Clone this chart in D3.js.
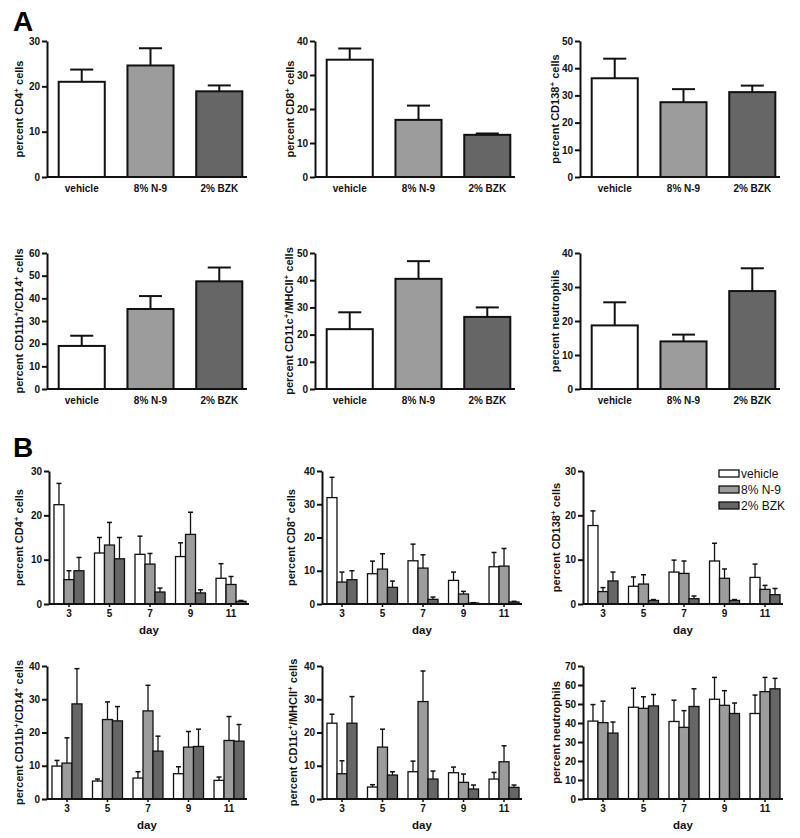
<!DOCTYPE html>
<html><head><meta charset="utf-8">
<script src="https://cdn.jsdelivr.net/npm/d3@7"></script>
<style>body{margin:0;background:#fff}</style>
</head><body>
<svg id="c" width="800" height="838"></svg>
<script>
// ---------- DATA ----------
const treatments = ["vehicle", "8% N-9", "2% BZK"];
const days = ["3", "5", "7", "9", "11"];

// Panel A: mean and SEM per treatment
const aCD4Mean = [21.0, 24.6, 18.9],   aCD4Sem = [2.7, 3.8, 1.3];
const aCD8Mean = [34.5, 16.8, 12.4],   aCD8Sem = [3.3, 4.2, 0.4];
const aCD138Mean = [36.3, 27.5, 31.2], aCD138Sem = [7.2, 4.8, 2.4];
const aCD11bMean = [19.0, 35.3, 47.5], aCD11bSem = [4.5, 5.7, 6.1];
const aCD11cMean = [22.0, 40.5, 26.5], aCD11cSem = [6.2, 6.5, 3.5];
const aNeutMean = [18.7, 14.0, 28.8],  aNeutSem = [6.8, 2.0, 6.7];

// Panel B: per treatment, values over days
const bCD4Vehicle = [22.4, 11.5, 11.2, 10.7, 5.8], bCD4VehicleSem = [4.8, 3.5, 4.1, 3.1, 3.3];
const bCD4N9 = [5.5, 13.3, 9.0, 15.7, 4.4],        bCD4N9Sem = [2.0, 5.1, 2.4, 5.0, 1.8];
const bCD4BZK = [7.5, 10.2, 2.7, 2.5, 0.6],        bCD4BZKSem = [3.0, 4.8, 0.9, 0.7, 0.2];

const bCD8Vehicle = [32.0, 9.1, 13.0, 7.1, 11.2],  bCD8VehicleSem = [6.1, 3.8, 5.0, 2.5, 4.3];
const bCD8N9 = [6.6, 10.5, 10.8, 3.0, 11.4],       bCD8N9Sem = [3.0, 4.6, 4.0, 0.8, 5.3];
const bCD8BZK = [7.3, 5.0, 1.4, 0.3, 0.6],         bCD8BZKSem = [2.7, 1.9, 0.7, 0.1, 0.2];

const bCD138Vehicle = [17.7, 4.0, 7.2, 9.7, 6.0],  bCD138VehicleSem = [3.3, 2.1, 2.7, 4.0, 3.0];
const bCD138N9 = [2.8, 4.5, 6.9, 5.8, 3.3],        bCD138N9Sem = [0.9, 2.1, 2.8, 2.1, 0.9];
const bCD138BZK = [5.2, 0.8, 1.2, 0.8, 2.1],       bCD138BZKSem = [2.0, 0.2, 0.6, 0.2, 1.4];

const bCD11bVehicle = [9.9, 5.4, 6.3, 7.6, 5.6],   bCD11bVehicleSem = [1.7, 0.6, 1.9, 2.1, 1.0];
const bCD11bN9 = [10.8, 23.9, 26.5, 15.6, 17.6],   bCD11bN9Sem = [7.6, 5.3, 7.7, 4.7, 7.2];
const bCD11bBZK = [28.6, 23.5, 14.4, 15.8, 17.4],  bCD11bBZKSem = [10.6, 4.3, 4.5, 5.2, 5.0];

const bCD11cVehicle = [22.8, 3.6, 8.2, 7.9, 6.0],  bCD11cVehicleSem = [2.7, 0.7, 3.2, 1.7, 2.0];
const bCD11cN9 = [7.6, 15.6, 29.3, 5.0, 11.2],     bCD11cN9Sem = [3.9, 5.4, 9.2, 2.5, 4.8];
const bCD11cBZK = [22.8, 7.2, 6.0, 3.0, 3.5],      bCD11cBZKSem = [8.0, 1.0, 2.4, 1.2, 0.7];

const bNeutVehicle = [41.0, 48.3, 40.8, 52.5, 45.0], bNeutVehicleSem = [8.7, 10.0, 11.2, 11.5, 9.7];
const bNeutN9 = [40.2, 47.7, 37.7, 49.3, 56.5],      bNeutN9Sem = [11.3, 6.1, 8.8, 7.7, 7.5];
const bNeutBZK = [34.7, 49.0, 48.7, 45.0, 58.0],     bNeutBZKSem = [5.8, 6.0, 9.3, 5.5, 5.5];

const xTitleB = "day";

// ---------- STYLE ----------
const colors = ["#ffffff", "#9c9c9c", "#666666"];
const FONT = "'Liberation Sans', Arial, Helvetica, sans-serif";
const svg = d3.select("#c").style("font-family", FONT);

function yLabel(g, parts, cx, cy) {
  const t = g.append("text")
    .attr("transform", `translate(${cx},${cy}) rotate(-90)`)
    .attr("text-anchor", "middle")
    .attr("font-size", 11)
    .attr("font-weight", "bold")
    .attr("fill", "#111");
  let raised = false;
  parts.forEach(p => {
    const ts = t.append("tspan").text(p.t);
    if (p.sup) {
      ts.attr("dy", -4.5).attr("font-size", 8);
      raised = true;
    } else if (raised) {
      ts.attr("dy", 4.5);
      raised = false;
    }
  });
}

function styleYAxis(ax, sw) {
  ax.select(".domain").attr("stroke", "#111").attr("stroke-width", sw);
  ax.selectAll(".tick line").attr("stroke", "#111").attr("stroke-width", sw);
  ax.selectAll(".tick text").attr("font-size", 10).attr("font-weight", "bold").attr("fill", "#111").attr("font-family", FONT);
}

function panelA(x0, yTop, yBot, means, sems, ymax, labelParts, labOff) {
  const g = svg.append("g");
  const x = d3.scaleBand().domain(treatments).range([x0, x0 + 207]).paddingInner(0.33).paddingOuter(0.17);
  const y = d3.scaleLinear().domain([0, ymax]).range([yBot, yTop]);
  const data = treatments.map((t, i) => ({t, m: means[i], s: sems[i], i}));
  data.forEach(d => {
    const cx = x(d.t) + x.bandwidth() / 2;
    g.append("line").attr("x1", cx).attr("x2", cx).attr("y1", y(d.m)).attr("y2", y(d.m + d.s))
      .attr("stroke", "#111").attr("stroke-width", 2);
    g.append("line").attr("x1", cx - x.bandwidth() / 4).attr("x2", cx + x.bandwidth() / 4)
      .attr("y1", y(d.m + d.s)).attr("y2", y(d.m + d.s)).attr("stroke", "#111").attr("stroke-width", 2);
  });
  g.selectAll("rect.bar").data(data).join("rect")
    .attr("x", d => x(d.t)).attr("width", x.bandwidth())
    .attr("y", d => y(d.m)).attr("height", d => y(0) - y(d.m))
    .attr("fill", d => colors[d.i]).attr("stroke", "#111").attr("stroke-width", 2);
  g.append("line").attr("x1", x0).attr("x2", x0 + 200).attr("y1", yBot).attr("y2", yBot)
    .attr("stroke", "#111").attr("stroke-width", 2);
  const xa = g.append("g").attr("transform", `translate(0,${yBot})`)
    .call(d3.axisBottom(x).tickSize(0).tickPadding(8));
  xa.select(".domain").remove();
  xa.selectAll(".tick text").attr("font-size", 10).attr("font-weight", "bold").attr("fill", "#111").attr("font-family", FONT);
  const ya = g.append("g").attr("transform", `translate(${x0},0)`)
    .call(d3.axisLeft(y).ticks(ymax / 10).tickSize(5).tickSizeOuter(0).tickPadding(2));
  styleYAxis(ya, 2);
  yLabel(g, labelParts, x0 - labOff, (yTop + yBot) / 2);
}

function panelB(x0, yTop, yBot, series, sems, ymax, labelParts, labOff) {
  const g = svg.append("g");
  const x = d3.scaleBand().domain(days).range([x0, x0 + 202]).paddingInner(0.26).paddingOuter(0.123);
  const sub = d3.scaleBand().domain(treatments).range([0, x.bandwidth()]);
  const y = d3.scaleLinear().domain([0, ymax]).range([yBot, yTop]);
  const data = [];
  days.forEach((dd, j) => treatments.forEach((t, i) => data.push({day: dd, t, i, m: series[i][j], s: sems[i][j]})));
  data.forEach(d => {
    const cx = x(d.day) + sub(d.t) + sub.bandwidth() / 2;
    g.append("line").attr("x1", cx).attr("x2", cx).attr("y1", y(d.m)).attr("y2", y(d.m + d.s))
      .attr("stroke", "#111").attr("stroke-width", 1.3);
    g.append("line").attr("x1", cx - sub.bandwidth() / 4).attr("x2", cx + sub.bandwidth() / 4)
      .attr("y1", y(d.m + d.s)).attr("y2", y(d.m + d.s)).attr("stroke", "#111").attr("stroke-width", 1.5);
  });
  g.selectAll("rect.bar").data(data).join("rect")
    .attr("x", d => x(d.day) + sub(d.t)).attr("width", sub.bandwidth())
    .attr("y", d => y(d.m)).attr("height", d => y(0) - y(d.m))
    .attr("fill", d => colors[d.i]).attr("stroke", "#111").attr("stroke-width", 1.3);
  g.append("line").attr("x1", x0).attr("x2", x0 + 200).attr("y1", yBot).attr("y2", yBot)
    .attr("stroke", "#111").attr("stroke-width", 2);
  const xa = g.append("g").attr("transform", `translate(0,${yBot})`)
    .call(d3.axisBottom(x).tickSize(3).tickPadding(3));
  xa.select(".domain").remove();
  xa.selectAll(".tick line").attr("stroke", "#111").attr("stroke-width", 1.5);
  xa.selectAll(".tick text").attr("font-size", 10).attr("font-weight", "bold").attr("fill", "#111").attr("font-family", FONT);
  g.append("text").attr("x", x0 + 100).attr("y", yBot + 30).attr("text-anchor", "middle")
    .attr("font-size", 11.5).attr("font-weight", "bold").attr("fill", "#111").text(xTitleB);
  const ya = g.append("g").attr("transform", `translate(${x0},0)`)
    .call(d3.axisLeft(y).ticks(ymax / 10).tickSize(5).tickSizeOuter(0).tickPadding(2));
  styleYAxis(ya, 2);
  yLabel(g, labelParts, x0 - labOff, (yTop + yBot) / 2);
}

// Panel letters
svg.append("text").attr("x", 13).attr("y", 31).attr("font-size", 28).attr("font-weight", "bold").text("A");
svg.append("text").attr("x", 13).attr("y", 457).attr("font-size", 28).attr("font-weight", "bold").text("B");

const P = (t) => ({t}), S = (t) => ({t, sup: true});

// A row 1
panelA(47, 41, 177, aCD4Mean, aCD4Sem, 30, [P("percent CD4"), S("+"), P(" cells")], 24);
panelA(315, 41, 177, aCD8Mean, aCD8Sem, 40, [P("percent CD8"), S("+"), P(" cells")], 21);
panelA(580, 41, 177, aCD138Mean, aCD138Sem, 50, [P("percent CD138"), S("+"), P(" cells")], 21);
// A row 2
panelA(47, 253, 389, aCD11bMean, aCD11bSem, 60, [P("percent CD11b"), S("+"), P("/CD14"), S("+"), P(" cells")], 24);
panelA(315, 253, 389, aCD11cMean, aCD11cSem, 50, [P("percent CD11c"), S("+"), P("/MHCII"), S("+"), P(" cells")], 22);
panelA(580, 253, 389, aNeutMean, aNeutSem, 40, [P("percent neutrophils")], 21);

// B row 1
panelB(49, 471, 604, [bCD4Vehicle, bCD4N9, bCD4BZK], [bCD4VehicleSem, bCD4N9Sem, bCD4BZKSem], 30,
  [P("percent CD4"), S("+"), P(" cells")], 26);
panelB(322, 471, 604, [bCD8Vehicle, bCD8N9, bCD8BZK], [bCD8VehicleSem, bCD8N9Sem, bCD8BZKSem], 40,
  [P("percent CD8"), S("+"), P(" cells")], 27);
panelB(583, 471, 604, [bCD138Vehicle, bCD138N9, bCD138BZK], [bCD138VehicleSem, bCD138N9Sem, bCD138BZKSem], 30,
  [P("percent CD138"), S("+"), P(" cells")], 23);
// B row 2
panelB(47, 666, 799, [bCD11bVehicle, bCD11bN9, bCD11bBZK], [bCD11bVehicleSem, bCD11bN9Sem, bCD11bBZKSem], 40,
  [P("percent CD11b"), S("+"), P("/CD14"), S("+"), P(" cells")], 24);
panelB(322, 666, 799, [bCD11cVehicle, bCD11cN9, bCD11cBZK], [bCD11cVehicleSem, bCD11cN9Sem, bCD11cBZKSem], 40,
  [P("percent CD11c"), S("+"), P("/MHCII"), S("+"), P(" cells")], 25);
panelB(583, 666, 799, [bNeutVehicle, bNeutN9, bNeutBZK], [bNeutVehicleSem, bNeutN9Sem, bNeutBZKSem], 70,
  [P("percent neutrophils")], 23);

// Legend
const leg = svg.append("g").attr("transform", "translate(719,470)");
treatments.forEach((t, i) => {
  leg.append("rect").attr("x", 0).attr("y", i * 16).attr("width", 20).attr("height", 7)
    .attr("fill", colors[i]).attr("stroke", "#111").attr("stroke-width", 1.3);
  leg.append("text").attr("x", 22).attr("y", i * 16 + 8).attr("font-size", 12).attr("fill", "#111").text(t);
});
</script>
</body></html>
